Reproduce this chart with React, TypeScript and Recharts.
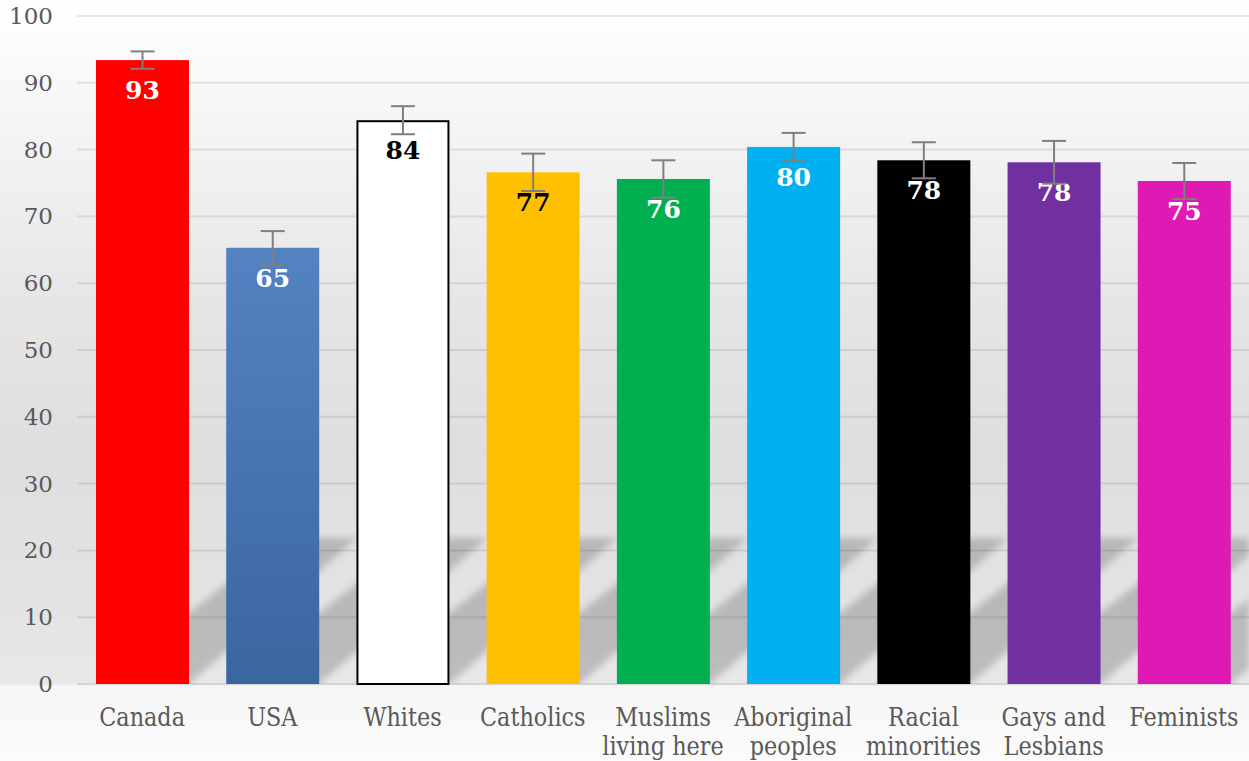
import React from "react";
import { BarChart, Bar, XAxis, YAxis, CartesianGrid, ErrorBar } from "recharts";

if (typeof document !== "undefined") document.body.style.margin = "0";

// data
const categories = [
  "Canada",
  "USA",
  "Whites",
  "Catholics",
  "Muslims living here",
  "Aboriginal peoples",
  "Racial minorities",
  "Gays and Lesbians",
  "Feminists",
];
const tickLines = [
  ["Canada"],
  ["USA"],
  ["Whites"],
  ["Catholics"],
  ["Muslims", "living here"],
  ["Aboriginal", "peoples"],
  ["Racial", "minorities"],
  ["Gays and", "Lesbians"],
  ["Feminists"],
];
const values = [93.4, 65.3, 84.4, 76.6, 75.6, 80.4, 78.4, 78.1, 75.3];
const errors = [1.3, 2.5, 2.1, 2.8, 2.8, 2.1, 2.7, 3.2, 2.7];
const yTicks = [0, 10, 20, 30, 40, 50, 60, 70, 80, 90, 100];

const barColors = [
  "#ff0000",
  "url(#usaFill)",
  "#ffffff",
  "#ffc000",
  "#00b050",
  "#00b0f0",
  "#000000",
  "#7030a0",
  "#df19b4",
];
const labelColors = ["#fff", "#fff", "#000", "#000", "#fff", "#fff", "#fff", "#fff", "#fff"];

const data = categories.map((name, i) => ({ name, value: values[i], err: errors[i] }));

const serif = "'DejaVu Serif', Georgia, serif";

function BarShape(props: any) {
  const { x, y, width, height } = props;
  const i = categories.indexOf(props.payload?.name ?? props.name);
  const base = y + height;
  const sh = 150;
  const pts = `${x},${base} ${x + width},${base} ${x + width + 1.15 * sh},${base - sh} ${x + 1.3 * sh},${base - sh}`;
  const white = i === 2;
  return (
    <g>
      <g clipPath="url(#plotClip)">
        <g filter="url(#shadowBlur)">
          <polygon points={pts} fill="#000" fillOpacity={0.19} clipPath="url(#shadowClip)" />
        </g>
      </g>
      <rect
        x={white ? x + 1 : x}
        y={white ? y + 1 : y}
        width={white ? width - 2 : width}
        height={white ? height - 1 : height}
        fill={barColors[i]}
        stroke={white ? "#000" : "none"}
        strokeWidth={white ? 2 : 0}
      />
      <text
        x={x + width / 2}
        y={y + 39}
        textAnchor="middle"
        fill={labelColors[i]}
        fontFamily={serif}
        fontWeight="bold"
        fontSize={25}
      >
        {Math.round(values[i])}
      </text>
    </g>
  );
}

function XTick(props: any) {
  const { x, y, payload } = props;
  const i = categories.indexOf(payload.value);
  const lines = tickLines[i] || [payload.value];
  return (
    <g transform={`translate(${x},${y})`}>
      <text textAnchor="middle" fill="#595959" fontFamily={serif} fontSize={26} transform="scale(0.86,1)">
        {lines.map((l, k) => (
          <tspan key={k} x={0} y={42 + k * 29}>
            {l}
          </tspan>
        ))}
      </text>
    </g>
  );
}

function YTick(props: any) {
  const { x, y, payload } = props;
  return (
    <text x={x} y={y + 8} textAnchor="end" fill="#595959" fontFamily={serif} fontSize={23}>
      {payload.value}
    </text>
  );
}

export default function App() {
  return (
    <div
      style={{
        width: 1249,
        height: 761,
        background:
          "linear-gradient(to bottom, #ffffff 0px, #fafafa 60px, #e6e6e6 300px, #dedede 450px, #e3e3e3 600px, #e8e8e8 684px, #f6f6f6 686px, #fbfbfb 761px)",
      }}
    >
      <BarChart width={1249} height={761} data={data} margin={{ top: 16, right: 0, bottom: 0, left: 0 }}>
        <defs>
          <linearGradient id="usaFill" x1="0" y1="0" x2="0" y2="1">
            <stop offset="0%" stopColor="#5383c2" />
            <stop offset="100%" stopColor="#3a66a0" />
          </linearGradient>
          <filter id="shadowBlur" x="-30%" y="-30%" width="160%" height="160%">
            <feGaussianBlur stdDeviation="3.5" />
          </filter>
          <clipPath id="shadowClip">
            <rect x={77} y={538} width={1172} height={160} />
          </clipPath>
          <clipPath id="plotClip">
            <rect x={77} y={16} width={1172} height={668} />
          </clipPath>
        </defs>
        <CartesianGrid vertical={false} stroke="#000" strokeOpacity={0.09} strokeWidth={2} />
        <XAxis
          dataKey="name"
          interval={0}
          tick={<XTick />}
          tickLine={false}
          axisLine={false}
          tickSize={0}
          tickMargin={0}
          height={77}
        />
        <YAxis
          domain={[0, 100]}
          ticks={yTicks}
          interval={0}
          tick={<YTick />}
          tickLine={false}
          axisLine={false}
          tickSize={0}
          tickMargin={24}
          width={77}
        />
        <Bar dataKey="value" barSize={93} shape={<BarShape />} isAnimationActive={false}>
          <ErrorBar dataKey="err" width={12} stroke="#7f7f7f" strokeWidth={2} isAnimationActive={false} />
        </Bar>
      </BarChart>
    </div>
  );
}
